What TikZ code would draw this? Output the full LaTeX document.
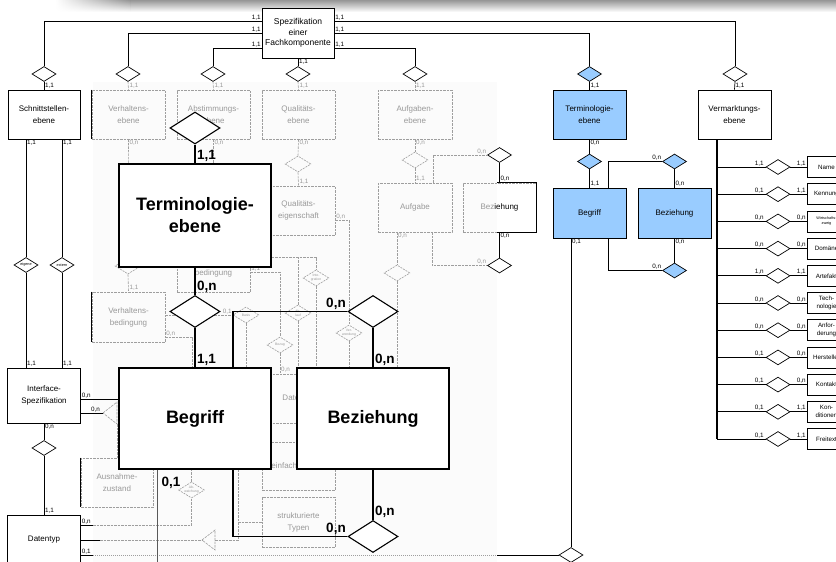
\documentclass[tikz,border=0pt]{standalone}
\usepackage{fontspec}
\setmainfont{Liberation Sans}
\usetikzlibrary{shapes.geometric,fadings}
\definecolor{termblue}{HTML}{99CCFF}
\definecolor{fgray}{gray}{0.62}
\definecolor{ftext}{gray}{0.6}
\pgfdeclarelayer{faded}
\pgfdeclarelayer{links}
\pgfsetlayers{faded,links,main}
\tikzfading[name=bandfade, top color=transparent!10, bottom color=transparent!100]
\tikzset{
  lab/.style={font=\fontsize{6.3}{7}\selectfont, inner sep=0.8pt},
  flab/.style={lab, text=ftext},
  blab/.style={font=\bfseries\fontsize{13.5}{14}\selectfont, inner sep=1.5pt},
  tinytext/.style={font=\fontsize{3.8}{4.3}\selectfont, inner sep=0, align=center},
  ftinytext/.style={tinytext, text=ftext, font=\fontsize{3.4}{3.9}\selectfont},
  ent/.style={draw=black, line width=0.7pt, fill=white, inner sep=0, align=center,
              font=\fontsize{8}{12}\selectfont},
  bluent/.style={ent, fill=termblue},
  fent/.style={draw=fgray, line width=0.6pt, dash pattern=on 2.5pt off 1pt, inner sep=0,
               align=center, text=ftext, font=\fontsize{8}{12}\selectfont},
  bigent/.style={draw=black, line width=1.1pt, fill=white, inner sep=0, align=center,
                 font=\bfseries\fontsize{18}{22}\selectfont},
  dia/.style={diamond, draw=black, fill=white, inner sep=0, minimum width=24,
              minimum height=15, line width=0.7pt},
  bluedia/.style={dia, fill=termblue},
  fdia/.style={diamond, draw=fgray, line width=0.6pt, dash pattern=on 2pt off 1pt,
               inner sep=0, minimum width=26, minimum height=16},
  bigdia/.style={dia, minimum width=50, minimum height=32, line width=1.1pt},
  link/.style={draw=black, line width=0.7pt},
  biglink/.style={draw=black, line width=1.1pt},
  flink/.style={draw=fgray, line width=0.6pt, dash pattern=on 2.5pt off 1pt},
  fdot/.style={draw=fgray, line width=0.6pt, dash pattern=on 1pt off 1pt},
  attr/.style={ent, minimum width=39, minimum height=21},
}
\begin{document}
\begin{tikzpicture}[x=1pt,y=-1pt]
\useasboundingbox (0,0) rectangle (836,562);
\clip (0,0) rectangle (836,562);

% soft shadow band along the top edge
\fill[black!50, path fading=bandfade] (130,-1) rectangle (836,12);
\shade[left color=white, right color=black!50, path fading=bandfade] (55,-1) rectangle (130,12);

% ---------- main ERM: black nodes ----------
\node[ent, minimum width=72, minimum height=50, font=\fontsize{8.5}{10.5}\selectfont]
  (spez) at (298,33) {Spezifikation\\einer\\Fachkomponente};

\node[dia] (dSchn) at (44,74) {};
\node[dia] (dVerh) at (128,74) {};
\node[dia] (dAbst) at (213,74) {};
\node[dia] (dQual) at (298,74) {};
\node[dia] (dAufg) at (415,74) {};
\node[bluedia] (dTerm) at (589.5,74) {};
\node[dia] (dVerm) at (735,74) {};

\node[ent, minimum width=72, minimum height=49] (schn) at (44,114.5) {Schnittstellen-\\ebene};
\node[bluent, minimum width=73, minimum height=49] (termS) at (589.5,114.5) {Terminologie-\\ebene};
\node[ent, minimum width=73, minimum height=49] (verm) at (734.5,114.5) {Vermarktungs-\\ebene};

\node[ent, minimum width=73, minimum height=55] (iface) at (44,395.5) {Interface-\\Spezifikation};
\node[ent, minimum width=73, minimum height=50] (dtyp) at (44,540) {Datentyp};

\node[dia] (dEig) at (26,265) {};
\node[tinytext] at (dEig) {eigene};
\node[dia] (dExt) at (62,265) {};
\node[tinytext] at (dExt) {extern};
\node[dia] (dDat) at (44,448) {};

% blue terminology part
\node[bluedia] (dTB) at (589.5,161.5) {};
\node[bluedia] (dBR) at (674.5,161.5) {};
\node[bluent, minimum width=73, minimum height=50] (begrS) at (589.5,213) {Begriff};
\node[bluent, minimum width=73, minimum height=50] (bezS2) at (674.5,213) {Beziehung};
\node[bluedia] (dBR2) at (674.5,270.5) {};
\node[dia] (dBot) at (571,555) {};

% diamonds around the small Beziehung box
\node[dia] (fdB1) at (499.5,155) {};
\node[dia] (fdB2) at (499.5,265.5) {};

% ---------- enlarged terminology level ----------
\node[bigdia] (dBigT) at (195,128) {};
\node[bigent, minimum width=152, minimum height=103] (termBig) at (195,215.5) {Terminologie-\\ebene};
\node[bigdia] (dBig1) at (195,311.5) {};
\node[bigdia] (dBig2) at (373,311.5) {};
\node[bigent, minimum width=152, minimum height=101] (begrBig) at (195,418.5) {Begriff};
\node[bigent, minimum width=152, minimum height=101] (bezBig) at (373,418.5) {Beziehung};
\node[bigdia] (dBig3) at (373,536.5) {};

% ---------- faded part of the diagram ----------
\begin{pgfonlayer}{faded}
\fill[black!1.5] (93,82) rectangle (497,562);

\node[fent, minimum width=73, minimum height=49] (verhE) at (128.5,114.5) {Verhaltens-\\ebene};
\node[fent, minimum width=73, minimum height=49] (abstE) at (213.5,114.5) {Abstimmungs-\\ebene};
\node[fent, minimum width=73, minimum height=49] (qualE) at (298.5,114.5) {Qualitäts-\\ebene};
\node[fent, minimum width=74, minimum height=49] (aufgE) at (415,114.5) {Aufgaben-\\ebene};
\node[fent, minimum width=73, minimum height=49] (qualEig) at (298.5,210.5) {Qualitäts-\\eigenschaft};
\node[fent, minimum width=74, minimum height=49] (aufgabe) at (415,207.5) {Aufgabe};
\node[fent, minimum width=73, minimum height=49, text=black] (bezS) at (499.5,207.5) {{\color{ftext}Bez}iehung};
\node[fent, minimum width=73, minimum height=49] (abstB) at (213.5,267.5) {Abstimmungs-\\bedingung};
\node[fent, minimum width=73, minimum height=50] (verhB) at (128.5,317) {Verhaltens-\\bedingung};
\node[fent, minimum width=72, minimum height=49] (ausn) at (117,482.5) {Ausnahme-\\zustand};
\node[fent, minimum width=73, minimum height=49] (dtyp2) at (298.5,398.5) {Datentyp};
\node[fent, minimum width=73, minimum height=48] (einfT) at (298.5,466) {einfache Typen};
\node[fent, minimum width=73, minimum height=50] (struktT) at (298.5,522) {strukturierte\\Typen};

\node[fdia] (fdVe) at (128,266) {};
\node[fdia] (fdQ) at (298,164) {};
\node[fdia] (fdA) at (415,160) {};
\node[fdia] (fdC) at (397,273) {};
\node[fdia] (fdI) at (316,278) {};
\node[ftinytext] at (fdI) {Inte-\\gration};
\node[fdia] (fdX) at (298,313) {};
\node[ftinytext] at (fdX) {Ab-\\lauf};
\node[fdia] (fdAb) at (246,315) {};
\node[ftinytext] at (fdAb) {Basis};
\node[fdia] (fdAbl) at (280,345) {};
\node[ftinytext] at (fdAbl) {Bezug};
\node[fdia] (fdVer) at (349,333) {};
\node[ftinytext] at (fdVer) {Ver-\\wendung};
\node[fdia] (fdAbw) at (191.5,490) {};
\node[ftinytext] at (fdAbw) {Ab-\\weichung};

% faded connectors
\draw[flink] (dVerh.south) -- (verhE.north) node[flab, pos=1, anchor=south west] {1,1};
\draw[flink] (dAbst.south) -- (abstE.north) node[flab, pos=1, anchor=south west] {1,1};
\draw[flink] (dQual.south) -- (qualE.north) node[flab, pos=1, anchor=south west] {1,1};
\draw[flink] (dAufg.south) -- (aufgE.north) node[flab, pos=1, anchor=south west] {1,1};

\draw[flink] (verhE.south) -- (fdVe.north) node[flab, pos=0, anchor=north west] {0,n};
\draw[flink] (fdVe.south) -- (verhB.north) node[flab, pos=1, anchor=south west] {1,1};
\draw[flink] (abstE.south) -- (abstB.north) node[flab, pos=0, anchor=north west] {0,n};
\draw[flink] (qualE.south) -- (fdQ.north) node[flab, pos=0, anchor=north west] {0,n};
\draw[flink] (fdQ.south) -- (qualEig.north) node[flab, pos=1, anchor=south west] {1,1};
\draw[flink] (aufgE.south) -- (fdA.north) node[flab, pos=0, anchor=north west] {0,n};
\draw[flink] (fdA.south) -- (aufgabe.north) node[flab, pos=1, anchor=south west] {1,1};

\coordinate (qeOut) at ([yshift=-9.5pt]qualEig.east);
\draw[flink] (qeOut) -| (fdVer.north);
\node[flab, anchor=south west] at (qeOut) {0,n};
\draw[flink] (fdVer.south) -- (fdVer.south |- bezBig.north);

\coordinate (afTop) at ([xshift=18pt]aufgabe.north);
\draw[flink] (afTop) |- (fdB1.west);
\node[flab, anchor=south east] at (fdB1.west) {0,n};
\coordinate (afBot) at ([xshift=17pt]aufgabe.south);
\draw[flink] (afBot) |- (fdB2.west);
\node[flab, anchor=south east] at (fdB2.west) {0,n};
\coordinate (afBot2) at ([xshift=-18pt]aufgabe.south);
\draw[flink] (afBot2) -- (fdC.north);
\node[flab, anchor=north west] at (afBot2) {0,n};
\draw[flink] (fdC.south) -- (fdC.south |- bezBig.north);

\coordinate (tmOut) at ([yshift=-41.5pt]termBig.east);
\draw[flink] (tmOut) -| (fdI.north);
\draw[flink] (fdI.south) -- (fdI.south |- bezBig.north);
\draw[flink] (fdX.north) -- (fdX.north |- tmOut);
\draw[flink] (fdX.south) -- (fdX.south |- dtyp2.north);

\coordinate (abOut) at ([yshift=-4.5pt]abstB.east);
\draw[flink] (abOut) -| (fdAbl.north);
\node[flab, anchor=south west] at (abOut) {1,1};
\draw[flink] (fdAbl.south) -- (fdAbl.south |- dtyp2.north) node[flab, pos=1, anchor=south west] {0,n};

\coordinate (vbOut) at ([yshift=2pt]verhB.east);
\draw[flink] (vbOut) -- (fdAb.west);
\node[flab, anchor=south east] at (fdAb.west) {0,1};
\draw[flink] (fdAb.south) -- (fdAb.south |- begrBig.north);
\coordinate (vbOut2) at ([yshift=-20pt]verhB.east);
\coordinate (vbBend) at (192,337);
\draw[flink] (vbOut2) -- (vbBend) -- (vbBend |- begrBig.north);
\node[flab, anchor=south west] at (vbOut2) {0,n};

% generalisation towards Ausnahmezustand
\coordinate (t1tip) at (103,413);
\coordinate (t1base) at (117,413);
\draw[flink] (t1tip) -- ([yshift=11pt]t1base) -- ([yshift=-11pt]t1base) -- cycle;
\draw[flink] ([yshift=-11pt]t1base) -- (t1base |- ausn.north);

% Datentyp links
\coordinate (dtAk) at (93,525);
\draw[flink] (dtAk) -| (fdAbw.south);
\draw[flink] (fdAbw.north) -- (fdAbw.north |- begrBig.south);

\coordinate (dtBk) at (100,540);
\coordinate (t2tip) at (202,540);
\coordinate (t2base) at (215,540);
\coordinate (t2bend) at (238,540);
\draw[flink] (dtBk) -- (t2tip);
\draw[flink] (t2tip) -- ([yshift=10pt]t2base) -- ([yshift=-10pt]t2base) -- cycle;
\draw[flink] (t2base) -- (t2bend) -- (t2bend |- begrBig.south);
\draw[flink] (t2bend |- struktT.west) -- (struktT.west);

\coordinate (dtCk) at (93,555);
\coordinate (dtCe) at (497,555);
\draw[fdot] (dtCk) -- (dtCe);
\end{pgfonlayer}

% partly faded Beziehung: right part solid
\draw[link] (bezS.north -| dtCe) -- (bezS.north east) -- (bezS.south east) -- (bezS.south -| dtCe);
\draw[link] (fdB1.south) -- (bezS.north) node[lab, pos=1, anchor=south west] {0,n};
\draw[link] (bezS.south) -- (fdB2.north) node[lab, pos=0, anchor=north west] {0,n};

% solid left edges at the border of the faded part
\draw[link] (verhE.north west) -- (verhE.south west);
\draw[link] (verhB.north west) -- (verhB.south west);
\draw[link] (ausn.north west) -- (ausn.south west);

% ---------- connectors of the upper level ----------
\draw[link] ([yshift=12pt]spez.west) -| (dSchn.north);
\draw[link] (spez.west) -| (dVerh.north);
\draw[link] ([yshift=-15pt]spez.west) -| (dAbst.north);
\draw[link] (spez.south) -- (dQual.north);
\draw[link] ([yshift=12pt]spez.east) -| (dVerm.north);
\draw[link] (spez.east) -| (dTerm.north);
\draw[link] ([yshift=-15pt]spez.east) -| (dAufg.north);
\node[lab, anchor=south east] at ([yshift=12pt]spez.west) {1,1};
\node[lab, anchor=south east] at (spez.west) {1,1};
\node[lab, anchor=south east] at ([yshift=-15pt]spez.west) {1,1};
\node[lab, anchor=south west] at ([yshift=12pt]spez.east) {1,1};
\node[lab, anchor=south west] at (spez.east) {1,1};
\node[lab, anchor=south west] at ([yshift=-15pt]spez.east) {1,1};
\node[lab, anchor=north west] at (spez.south) {1,1};

\draw[link] (dSchn.south) -- (schn.north) node[lab, pos=1, anchor=south west] {1,1};
\draw[link] (dTerm.south) -- (termS.north) node[lab, pos=1, anchor=south west] {1,1};
\draw[link] (dVerm.south) -- (verm.north) node[lab, pos=1, anchor=south west] {1,1};

% Schnittstellenebene -- Interface-Spezifikation -- Datentyp
\draw[link] (dEig.north) -- (dEig.north |- schn.south) node[lab, pos=1, anchor=north west] {1,1};
\draw[link] (dEig.south) -- (dEig.south |- iface.north) node[lab, pos=1, anchor=south west] {1,1};
\draw[link] (dExt.north) -- (dExt.north |- schn.south) node[lab, pos=1, anchor=north west] {1,1};
\draw[link] (dExt.south) -- (dExt.south |- iface.north) node[lab, pos=1, anchor=south west] {1,1};
\draw[link] (iface.south) -- (dDat.north) node[lab, pos=0, anchor=north west] {0,n};
\draw[link] (dDat.south) -- (dtyp.north) node[lab, pos=1, anchor=south west] {1,1};

\coordinate (ifA) at ([yshift=-3.5pt]iface.east);
\coordinate (ifB) at ([yshift=-17.5pt]iface.east);
\draw[link] (ifA) -- (ifA -| begrBig.west);
\node[lab, anchor=south west] at (ifA) {0,n};
\draw[link] (ifB) -- (t1tip);
\node[lab, anchor=south east] at ([xshift=-2pt]t1tip) {0,n};

\coordinate (dtA) at ([yshift=15pt]dtyp.east);
\coordinate (dtC) at ([yshift=-15pt]dtyp.east);
\draw[link] (dtA) -- (dtAk);
\node[lab, anchor=south west] at (dtA) {0,n};
\draw[link] (dtyp.east) -- (dtBk);
\draw[link] (dtC) -- (dtCk);
\node[lab, anchor=south west] at (dtC) {0,1};
\draw[link] (dtCe) -- (dBot.west);

% terminology level (blue)
\draw[link] (termS.south) -- (dTB.north) node[lab, pos=0, anchor=north west] {0,n};
\draw[link] (dTB.south) -- (begrS.north) node[lab, pos=1, anchor=south west] {1,1};
\draw[link] (dBR.west) -| ([xshift=18.5pt]begrS.north);
\node[lab, anchor=south east] at (dBR.west) {0,n};
\draw[link] (dBR.south) -- (bezS2.north) node[lab, pos=1, anchor=south west] {0,n};
\draw[link] (bezS2.south) -- (dBR2.north) node[lab, pos=0, anchor=north west] {0,n};
\draw[link] ([xshift=18.5pt]begrS.south) |- (dBR2.west);
\node[lab, anchor=south east] at (dBR2.west) {0,n};
\draw[link] ([xshift=-18.5pt]begrS.south) -- (dBot.north) node[lab, pos=0, anchor=north west] {0,1};

% marketing level attributes
\foreach \y/\l/\r/\t/\f/\b [count=\i] in {
   167/{1,1}/{1,1}/{Name}/6.2/7.5,
   194.2/{0,1}/{1,1}/{Kennung}/6.2/7.5,
   221.4/{0,n}/{0,n}/{Wirtschafts-\\zweig}/3.8/5,
   248.6/{0,n}/{0,n}/{Domäne}/6.2/7.5,
   275.8/{1,n}/{1,1}/{Artefakt}/6.2/7.5,
   303/{0,n}/{0,n}/{Tech-\\nologie}/6.2/8,
   330.2/{0,n}/{0,n}/{Anfor-\\derung}/6.2/8,
   357.4/{0,1}/{0,n}/{Hersteller}/6.2/7.5,
   384.6/{0,1}/{0,n}/{Kontakt}/6.2/7.5,
   411.8/{0,1}/{1,1}/{Kon-\\ditionen}/6.2/8,
   439/{0,1}/{1,1}/{Freitext}/6.2/7.5}{
  \coordinate (vb\i) at (717,\y);
  \node[dia] (vd\i) at (778,\y) {};
  \node[attr, font=\fontsize{\f}{\b}\selectfont] (va\i) at (826.5,\y) {\t};
  \draw[link] (vb\i) -- (vd\i.west);
  \draw[link] (vd\i.east) -- (va\i.west);
  \node[lab, anchor=south east] at ([xshift=-1pt]vd\i.west) {\l};
  \node[lab, anchor=south east] at (va\i.west) {\r};
}
\draw[line width=2pt] (verm.south -| vb1) -- (vb11);

% ---------- connectors of the enlarged terminology level ----------
\draw[biglink] (dBigT.south) -- (termBig.north) node[blab, pos=1, anchor=south west] {1,1};
\draw[biglink] (termBig.south) -- (dBig1.north) node[blab, pos=1, anchor=south west] {0,n};
\draw[biglink] (dBig1.south) -- (begrBig.north) node[blab, pos=1, anchor=south west] {1,1};
\draw[biglink] (bezBig.north) -- (dBig2.south) node[blab, pos=0, anchor=south west] {0,n};
\draw[biglink] (bezBig.south) -- (dBig3.north) node[blab, pos=1, anchor=south west] {0,n};
\coordinate (bigBend) at (233,420);
\begin{pgfonlayer}{links}
\draw[biglink] (dBig2.west) -| (bigBend) |- (dBig3.west);
\end{pgfonlayer}
\node[blab, anchor=south east] at (dBig2.west) {0,n};
\node[blab, anchor=south east] at (dBig3.west) {0,n};

\coordinate (begrDown) at (157,575);
\draw[black!65, line width=0.9pt] (begrBig.south -| begrDown) -- (begrDown);
\node[blab, anchor=north west] at ([xshift=3pt,yshift=-6pt]begrBig.south -| begrDown) {0,1};
\end{tikzpicture}
\end{document}
